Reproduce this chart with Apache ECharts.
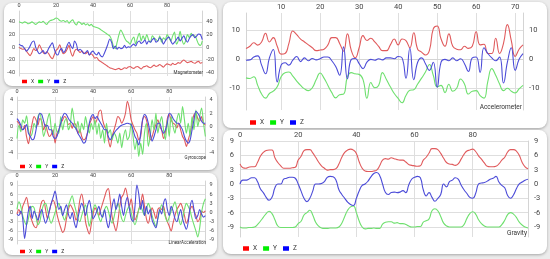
<!DOCTYPE html>
<html>
<head>
<meta charset="utf-8">
<script src="https://cdn.jsdelivr.net/npm/echarts@6/dist/echarts.min.js"></script>
<style>
  html, body { margin: 0; padding: 0; width: 550px; height: 259px; background: #ececec; overflow: hidden; }
  .card { position: absolute; background: #fff; border-radius: 8px; box-shadow: 0 1px 3px rgba(0, 0, 0, 0.3); }
</style>
</head>
<body>
<div id="mag" class="card" style="left:4px;top:3px;width:213px;height:83px"></div>
<div id="gyro" class="card" style="left:4px;top:89px;width:213px;height:81px"></div>
<div id="lin" class="card" style="left:4px;top:173px;width:213px;height:82px"></div>
<div id="acc" class="card" style="left:223px;top:2px;width:324px;height:126px"></div>
<div id="grav" class="card" style="left:223px;top:130px;width:324px;height:124px"></div>
<script>
// series names / legend
const seriesNames = ['X', 'Y', 'Z']

// Magnetometer, samples 0..99
const magX = [0, -2, -3, -2, -6, -10, -13, -8, -2, -5, -3, 4, -2, -8, -10, -7, -10, -15, -18, -12,
  -5, -2, 4, -5, -10, -8, -3, 3, -8, -14, -6, -3, -5, -8, -6, -9, -10, -7, -12, -10,
  -13, -17, -16, -20, -22, -24, -26, -28, -30, -32, -33, -34, -35, -34, -33, -35, -34, -32, -33, -31,
  -30, -32, -33, -31, -30, -32, -34, -31, -30, -29, -31, -32, -30, -28, -30, -29, -27, -29, -31, -28,
  -26, -27, -28, -25, -27, -26, -24, -25, -22, -20, -22, -24, -23, -22, -24, -25, -23, -22, -25, -24]
const magY = [40, 39, 38, 40, 39, 37, 38, 40, 38, 36, 38, 40, 39, 41, 38, 36, 40, 42, 43, 44,
  46, 45, 42, 41, 42, 40, 42, 38, 41, 43, 38, 35, 40, 39, 36, 38, 35, 37, 34, 36,
  33, 32, 31, 30, 28, 26, 24, 22, 20, 18, 12, 2, -2, 8, 20, 27, 22, 15, 10, 8,
  5, 12, 16, 5, 15, 22, 10, 18, 12, 20, 12, 8, 18, 15, 12, 10, 18, 8, 15, 12,
  20, 15, 10, 18, 24, 5, 10, 25, 12, 5, 10, 20, 15, 22, 18, 18, 12, 5, 3, 10]
const magZ = [5, 3, 2, -2, -6, -3, 2, 8, 10, 0, -6, -10, -8, -5, -10, -8, -2, 3, 7, -2,
  -10, -12, -5, -2, -8, -5, 3, 8, 2, -2, 10, 5, -5, -3, -6, -10, -8, -5, -12, -8,
  -6, -10, -12, -8, -13, -15, -10, -3, 5, 13, 8, -2, 2, -3, 0, -2, -1, 3, -1, 1,
  0, 3, 5, 2, 8, 10, 6, 8, 12, 5, 10, 8, 12, 14, 8, 10, 15, 12, 5, 10,
  14, 16, 10, 5, 8, 12, 16, 10, 14, 18, 12, 8, 14, 18, 20, 15, 18, 21, 20, 12]

// Gyroscope, samples 0..99
const gyroX = [0.8, 0.5, -0.3, -0.5, 0.2, -1.5, -2.6, -1.0, 0.5, 1.5, 1.0, 0.2, 1.2, 0.8, -0.5, 0.3, -0.8, -1.5, -1.2, -0.5,
  -2.5, -1.0, -0.5, 0.5, 1.0, 1.5, 1.2, 0.3, 0.5, -0.3, 0.5, 0.2, -1.0, -0.5, -1.5, -2.0, -1.8, -1.0, 0.2, 1.0,
  1.5, 0.5, 1.0, 2.2, 2.5, 1.0, 0.0, -0.5, -2.0, -3.1, -1.5, -0.5, 0.5, 1.5, 1.2, 0.5, 1.0, 2.0, 3.8, 2.8,
  1.0, 0.2, -0.5, -1.0, -2.0, -1.5, 1.0, 1.5, 1.0, -0.5, -2.0, -1.5, -0.5, 0.3, 1.0, 0.0, -0.5, -1.8, -0.8, 1.2,
  1.8, 1.0, 0.5, 0.3, -0.2, 0.5, -0.5, -1.5, -2.0, -3.0, -2.0, -1.0, 0.5, 1.8, 2.0, 1.2, 0.8, 1.5, 0.5, 0.2]
const gyroY = [-1.8, 0.2, -0.8, 1.0, 0.5, 1.6, -0.5, -1.5, -1.0, 0.5, -0.2, 1.5, 2.0, 0.5, -1.5, -0.5, 1.0, 2.0, -0.2, -1.2,
  0.5, -0.8, -1.0, 1.5, -0.5, 0.8, 1.2, -0.5, 0.3, 2.8, 1.0, -0.5, 0.8, -1.0, 0.5, -0.5, 1.5, 0.0, -1.0, 0.5,
  -0.5, 1.0, -1.2, 0.5, -1.8, -0.5, -2.5, 0.5, -1.0, -0.5, -2.0, -1.0, -1.5, -2.5, -1.0, -3.2, -1.5, -0.5, -2.0, -1.5,
  0.5, -1.5, -3.5, -2.0, -4.5, -2.5, -4.2, -1.0, 0.5, -3.0, -1.5, 1.0, -0.5, 2.0, -1.0, 0.5, 1.5, -0.5, -2.0, 1.0,
  -1.5, 1.5, 0.0, -1.0, 1.0, 2.0, 0.5, 3.0, 1.0, -1.0, 0.5, -1.5, 1.5, -0.5, 2.5, 0.0, 1.5, 2.8, 0.5, -1.5]
const gyroZ = [1.2, 0.8, 0.2, -0.5, -0.2, 0.3, -1.0, -1.5, -2.0, -1.8, -0.5, 1.0, 2.0, 1.8, 0.8, 0.0, 0.2, -0.5, -0.5, -1.5,
  -1.8, -1.5, -0.5, 0.5, 1.5, 2.0, 1.8, 1.2, 0.8, 0.5, 0.0, -0.3, -1.0, -1.5, -2.0, -2.5, -2.3, -1.0, 0.5, 1.5,
  1.8, 1.2, 1.5, 1.0, 0.5, 0.0, -0.5, -0.5, -1.5, -2.0, -1.5, -1.0, -0.6, -0.3, 0.0, 0.2, 0.3, 0.4, 0.5, 0.4,
  0.3, -0.5, -1.5, -2.0, -2.8, -1.0, 1.0, 1.8, 1.5, 0.5, -1.0, -2.2, -1.5, -0.5, 0.5, 0.5, -0.5, -1.0, -0.5, 0.5,
  2.0, 1.8, 1.2, 0.8, 0.5, 0.5, 0.0, -0.5, -1.5, -2.2, -2.5, -2.0, -0.5, 1.0, 2.3, 2.0, 1.5, 0.8, 0.5, 0.5]

// Linear acceleration, samples 0..99
const linX = [-0.5, 1.0, -0.5, 2.0, 3.5, 5.0, 2.0, -1.0, -3.0, -4.5, -5.0, -3.0, 1.0, 3.5, 4.0, 1.0, -2.0, 0.5, 3.0, 4.0,
  2.5, -0.5, -3.0, -5.0, -6.5, -5.5, -2.0, 1.0, 2.5, 1.5, 0.0, -2.5, -0.5, 4.0, 6.0, 3.0, -3.0, -5.5, -7.0, -4.0,
  -0.5, 1.5, 0.5, -1.0, 1.0, 3.0, 5.0, 7.0, 7.8, 4.0, -1.5, -4.0, -6.0, -3.0, 2.0, 5.0, 6.0, 8.0, 5.5, 2.0,
  4.5, 0.5, -2.5, -1.0, 1.0, 3.0, 6.0, 2.0, -2.0, -3.5, -1.0, 1.5, 0.0, -2.0, 1.0, 1.5, 1.0, 2.0, -1.0, -3.0,
  -4.5, -6.0, -3.5, -1.0, 1.0, 2.0, 3.0, 1.5, -1.0, -3.5, -2.0, 1.0, 2.0, 0.5, -1.0, -3.0, -2.0, 0.5, 0.0, 0.5]
const linY = [1.0, 3.5, 2.0, -1.0, -3.0, -4.0, -2.0, 1.0, 2.0, 1.5, -1.5, -4.0, -3.0, 0.5, 2.5, 3.0, 1.0, -2.0, -3.5, -2.0,
  0.0, 2.0, 3.0, 1.0, -1.0, -2.5, -0.5, 2.0, 4.0, 5.5, 3.0, 0.5, -2.0, -3.0, -1.0, 1.0, 2.5, -1.0, -4.5, -2.0,
  1.0, 2.5, 1.0, -1.5, -3.0, -1.0, 1.0, 2.0, 0.5, -2.0, -3.5, -1.5, 1.5, 3.0, 1.0, -2.0, -3.0, -1.0, 1.0, 2.0,
  0.0, -2.5, -4.0, -2.0, 1.0, 2.0, 0.5, -1.0, 1.0, 3.0, 1.5, -1.0, -3.0, -4.5, -2.0, 0.5, 2.5, 1.0, -1.5, -3.0,
  -1.5, 0.5, 2.0, 3.5, 1.0, -2.0, -4.0, -2.0, 1.0, 3.0, 2.0, 0.5, -2.0, -4.0, -6.0, -8.0, -5.0, 0.0, 3.0, 4.5]
const linZ = [-0.5, -1.0, 0.5, -2.0, -8.5, -4.0, 0.5, 2.0, -2.0, 0.5, -1.0, -2.5, -0.5, 1.0, -1.5, -3.5, -2.0, 0.5, 3.0, 5.0,
  7.0, 4.0, 1.0, 2.0, -1.0, 1.0, 2.5, -0.5, -2.0, 0.0, -3.0, -5.0, -2.0, 1.0, 3.0, 1.5, -1.0, 2.0, 4.0, 1.0,
  -2.0, -1.0, 0.5, 2.0, -0.5, -1.5, 1.0, -2.5, -5.0, -2.0, 2.0, 4.5, 1.0, 3.0, 6.0, 2.0, -1.0, 3.0, 5.0, 1.5,
  -2.0, -3.0, 2.0, 9.0, 6.0, 1.0, 4.0, -1.0, 2.0, -0.5, 1.0, -2.5, -4.0, -5.0, -2.0, 1.0, -0.5, 3.0, 4.5, 1.0,
  -1.0, 2.0, 0.5, -2.0, -3.0, -1.0, 1.0, -2.0, -4.0, -5.5, -3.0, 2.0, 4.0, 1.0, -2.0, -1.0, 1.0, -0.5, -1.5, -1.0]

// Accelerometer, samples 1..72
const accX = [3.7, 4.5, 5.7, 4.9, 6.0, 9.0, 6.0, 7.5, 4.5, 1.8, 2.0, 5.5, 9.8, 8.5, 7.0, 6.0, 5.0, 4.0, 3.0, 3.2,
  3.5, 5.0, 7.5, 7.5, 5.5, 2.8, 8.8, 3.0, 0.5, 4.0, 8.2, 6.5, 7.3, 6.0, 4.5, 3.0, 3.0, 5.0, 7.0, 5.0,
  7.0, 6.5, 4.0, 9.2, 3.5, 2.5, 1.5, 3.0, 10.5, 11.5, 7.0, 4.5, 8.8, 4.5, 3.5, 3.3, 4.5, 3.8, 4.5, 9.5,
  5.0, 5.2, 2.0, 2.0, 7.3, 2.0, 5.5, 12.0, 6.5, 1.0, 3.5, 5.0]
const accY = [-6.4, -6.6, -6.0, -9.0, -12.0, -13.4, -11.8, -11.0, -9.5, -6.0, -4.6, -4.4, -5.8, -7.5, -9.0, -10.2, -10.8, -9.8, -7.0, -4.7,
  -6.5, -9.0, -11.5, -13.3, -12.2, -12.0, -6.0, -4.6, -5.0, -5.2, -7.0, -13.4, -8.0, -9.8, -9.0, -4.6, -7.0, -9.5, -11.8, -13.5,
  -15.0, -12.5, -10.7, -10.5, -8.5, -6.5, -4.4, -1.8, -5.5, -9.5, -9.0, -11.5, -8.6, -11.0, -10.0, -6.8, -8.5, -12.0, -11.0, -10.8,
  -12.5, -13.4, -7.5, -3.2, -5.5, -8.5, -10.8, -10.0, -11.0, -11.6, -10.2, -9.0]
const accZ = [-0.3, -0.2, 0.8, 1.2, -2.0, -5.0, 0.5, 3.4, -7.8, -2.0, -1.2, -2.0, -0.3, 1.0, -0.8, 0.5, -0.5, 0.3, -0.2, 0.2,
  0.8, 0.8, -0.5, -2.5, -5.5, 4.3, -6.7, 0.0, 0.3, -1.5, -3.2, -1.0, 0.0, -0.3, 0.2, -0.2, 0.5, 0.5, 0.2, 1.0,
  0.5, -6.5, 3.9, -7.0, -1.0, 0.5, -1.5, -3.8, -1.0, -9.6, -1.0, 0.0, -0.5, 0.5, -0.5, 0.2, -1.5, -4.2, 0.5, 0.8,
  -4.5, 4.0, 2.0, 0.5, -0.5, 0.8, -8.2, -1.0, 4.0, -3.8, 0.0, 2.0]

// Gravity, samples 0..99
const gravX = [4.2, 3.4, 3.3, 3.5, 3.6, 3.6, 4.5, 5.8, 6.6, 7.0, 7.1, 7.1, 5.5, 4.5, 3.8, 3.3, 3.3, 3.3, 3.4, 3.5,
  5.0, 5.8, 7.0, 7.2, 7.2, 6.5, 5.6, 4.6, 3.8, 3.3, 2.9, 3.0, 3.0, 3.2, 4.2, 5.6, 6.6, 7.1, 7.3, 7.1,
  6.4, 4.6, 3.3, 2.7, 2.6, 2.6, 2.7, 2.9, 3.8, 5.0, 5.3, 5.2, 5.5, 5.3, 5.1, 5.0, 5.0, 4.6, 4.1, 3.9,
  3.8, 3.7, 3.8, 5.0, 5.6, 6.5, 7.4, 7.4, 7.2, 6.4, 5.4, 4.5, 4.2, 4.1, 3.9, 4.2, 5.2, 6.2, 6.9, 7.1,
  7.3, 6.8, 5.9, 5.2, 4.4, 3.7, 3.6, 3.6, 3.7, 4.2, 5.0, 5.6, 6.7, 7.2, 7.2, 6.9, 6.0, 4.5, 3.6, 3.2]
const gravY = [-9.0, -9.2, -9.2, -9.1, -9.1, -9.0, -8.5, -7.8, -7.0, -6.2, -5.7, -6.2, -7.5, -8.8, -9.1, -9.1, -9.1, -9.1, -9.1, -9.0,
  -8.3, -7.8, -6.5, -6.0, -5.5, -6.5, -8.0, -8.8, -9.2, -9.3, -9.3, -9.2, -9.2, -9.2, -9.0, -8.2, -6.8, -5.5, -4.8, -4.6,
  -6.0, -7.8, -9.0, -9.4, -9.3, -9.3, -9.2, -9.3, -9.3, -8.4, -8.0, -7.9, -7.9, -8.2, -8.1, -8.3, -8.3, -8.5, -8.8, -9.0,
  -9.0, -8.9, -8.9, -8.0, -7.7, -7.3, -5.6, -5.2, -5.6, -6.8, -8.2, -8.8, -9.0, -9.0, -9.0, -9.0, -9.0, -8.5, -7.2, -6.2,
  -5.8, -6.3, -7.5, -8.3, -8.8, -9.0, -9.0, -9.0, -9.0, -9.0, -8.5, -7.6, -6.4, -6.0, -6.3, -7.0, -8.0, -8.6, -9.0, -9.2]
const gravZ = [0.0, 0.8, 0.8, 1.0, 1.3, 1.3, 0.5, -1.0, -1.8, -2.8, -3.4, -2.8, -0.8, 0.0, 0.0, 1.0, 1.2, 1.4, 1.4, 1.2,
  0.0, -1.5, -3.0, -3.7, -3.0, -1.5, 0.0, 0.0, 0.1, 0.5, 1.4, 1.6, 1.5, 0.8, -1.2, -2.2, -3.0, -3.8, -4.3, -4.5,
  -3.0, -1.4, -0.3, 0.0, 0.6, 1.5, 2.2, 2.4, 1.8, 0.0, -1.8, -2.2, -1.8, -1.7, -1.8, -1.7, -1.4, -1.8, -0.2, 1.0,
  1.4, 1.6, 1.3, -1.2, -2.5, -1.8, -2.8, -3.6, -3.0, -2.2, 0.0, -0.6, 0.5, 0.8, 1.3, 1.0, -0.2, -1.2, -2.0, -2.8,
  -3.0, -2.0, 0.0, 0.2, 0.3, 0.6, 1.0, 1.2, 1.6, 0.4, -0.3, -0.8, -2.4, -3.0, -2.3, -1.0, 0.0, 0.4, 0.8, 1.0]

// axis ticks
const ticks0to80 = [0, 20, 40, 60, 80]
const ticks10to70 = [10, 20, 30, 40, 50, 60, 70]
const magTicks = [-40, -20, 0, 20, 40]
const gyroTicks = [-4, -2, 0, 2, 4]
const nineTicks = [-9, -6, -3, 0, 3, 6, 9]
const accTicks = [-10, 0, 10]

const lineColors = ['#e05a5c', '#6fe06f', '#4c4cd8']
const legendColors = ['#ff0000', '#00ee00', '#0000ff']
const FONT = 'Roboto, "DejaVu Sans", sans-serif'

function buildOption(c) {
  const fs = c.fontSize
  const yAxis = (pos) => ({
    type: 'value',
    position: pos,
    min: c.yMin,
    max: c.yMax,
    axisLine: { show: true, lineStyle: { color: '#d4d4d4', width: 1 } },
    axisTick: { show: false, customValues: c.yTicks },
    axisLabel: { customValues: c.yTicks, fontSize: fs, color: '#444', margin: c.labelMargin, fontFamily: FONT },
    splitLine: { show: pos === 'left', lineStyle: { color: '#dedede', width: 1 } },
  })
  return {
    animation: false,
    textStyle: { fontFamily: FONT },
    grid: c.grid,
    title: {
      text: c.label,
      right: c.grid.right + 1,
      top: c.labelTop,
      padding: 0,
      textStyle: { fontSize: c.labelSize, fontWeight: 'normal', color: '#333', fontFamily: FONT },
    },
    legend: {
      left: c.legendLeft,
      top: c.legendTop,
      padding: 0,
      itemWidth: c.iconW,
      itemHeight: c.iconH,
      itemGap: c.legendGap,
      icon: 'rect',
      textStyle: { fontSize: c.legendSize, color: '#333', padding: [0, 0, 0, -1] },
      data: seriesNames.map((n, i) => ({ name: n, itemStyle: { color: legendColors[i] } })),
    },
    xAxis: {
      type: 'value',
      position: 'top',
      min: c.xMin,
      max: c.xMax,
      axisLine: { show: true, lineStyle: { color: '#d4d4d4', width: 1 } },
      axisTick: { show: false, customValues: c.xTicks },
      axisLabel: { customValues: c.xTicks, fontSize: fs, color: '#444', margin: 2, fontFamily: FONT },
      splitLine: { show: true, lineStyle: { color: '#dedede', width: 1 } },
    },
    yAxis: [yAxis('left'), yAxis('right')],
    series: c.data.map((vals, i) => ({
      name: seriesNames[i],
      type: 'line',
      showSymbol: false,
      smooth: c.smooth,
      lineStyle: { width: 1.1, color: lineColors[i] },
      itemStyle: { color: lineColors[i] },
      data: vals.map((v, k) => [k + c.xStart, v]),
    })),
  }
}

const small = { fontSize: 5.5, labelMargin: 4, legendSize: 5, iconW: 5, iconH: 3.5, legendGap: 4, labelSize: 4.5 }
const big = { fontSize: 7.5, labelMargin: 6, legendSize: 6.5, iconW: 6, iconH: 4.5, legendGap: 6, labelSize: 6.5 }

const charts = [
  ['mag', Object.assign({}, small, {
    grid: { left: 15, right: 13, top: 7, bottom: 10 },
    xMin: 0, xMax: 99, xTicks: ticks0to80, xStart: 0,
    yMin: -45, yMax: 57, yTicks: magTicks,
    data: [magX, magY, magZ], smooth: 0.3,
    label: 'Magnetometer', labelTop: 67, legendLeft: 18, legendTop: 76,
  })],
  ['gyro', Object.assign({}, small, {
    grid: { left: 13, right: 10, top: 8, bottom: 11 },
    xMin: 0, xMax: 99, xTicks: ticks0to80, xStart: 0,
    yMin: -4.9, yMax: 4.45, yTicks: gyroTicks,
    data: [gyroX, gyroY, gyroZ], smooth: 0.3,
    label: 'Gyroscope', labelTop: 66, legendLeft: 16, legendTop: 75,
  })],
  ['lin', Object.assign({}, small, {
    grid: { left: 13, right: 10, top: 7, bottom: 11 },
    xMin: 0, xMax: 99, xTicks: ticks0to80, xStart: 0,
    yMin: -10.3, yMax: 10.3, yTicks: nineTicks,
    data: [linX, linY, linZ], smooth: 0.3,
    label: 'LinearAcceleration', labelTop: 67, legendLeft: 16, legendTop: 76,
  })],
  ['acc', Object.assign({}, big, {
    grid: { left: 23, right: 24, top: 11, bottom: 18 },
    xMin: 1, xMax: 72, xTicks: ticks10to70, xStart: 1,
    yMin: -17.5, yMax: 16, yTicks: accTicks,
    data: [accX, accY, accZ], smooth: 0.5,
    label: 'Accelerometer', labelTop: 102, legendLeft: 27, legendTop: 117,
  })],
  ['grav', Object.assign({}, big, {
    grid: { left: 17, right: 19, top: 11, bottom: 17 },
    xMin: 0, xMax: 99, xTicks: ticks0to80, xStart: 0,
    yMin: -11.1, yMax: 9, yTicks: nineTicks,
    data: [gravX, gravY, gravZ], smooth: 0.5,
    label: 'Gravity', labelTop: 100, legendLeft: 20, legendTop: 115,
  })],
]

charts.forEach(([id, cfg]) => {
  const chart = echarts.init(document.getElementById(id))
  chart.setOption(buildOption(cfg))
})
</script>
</body>
</html>
